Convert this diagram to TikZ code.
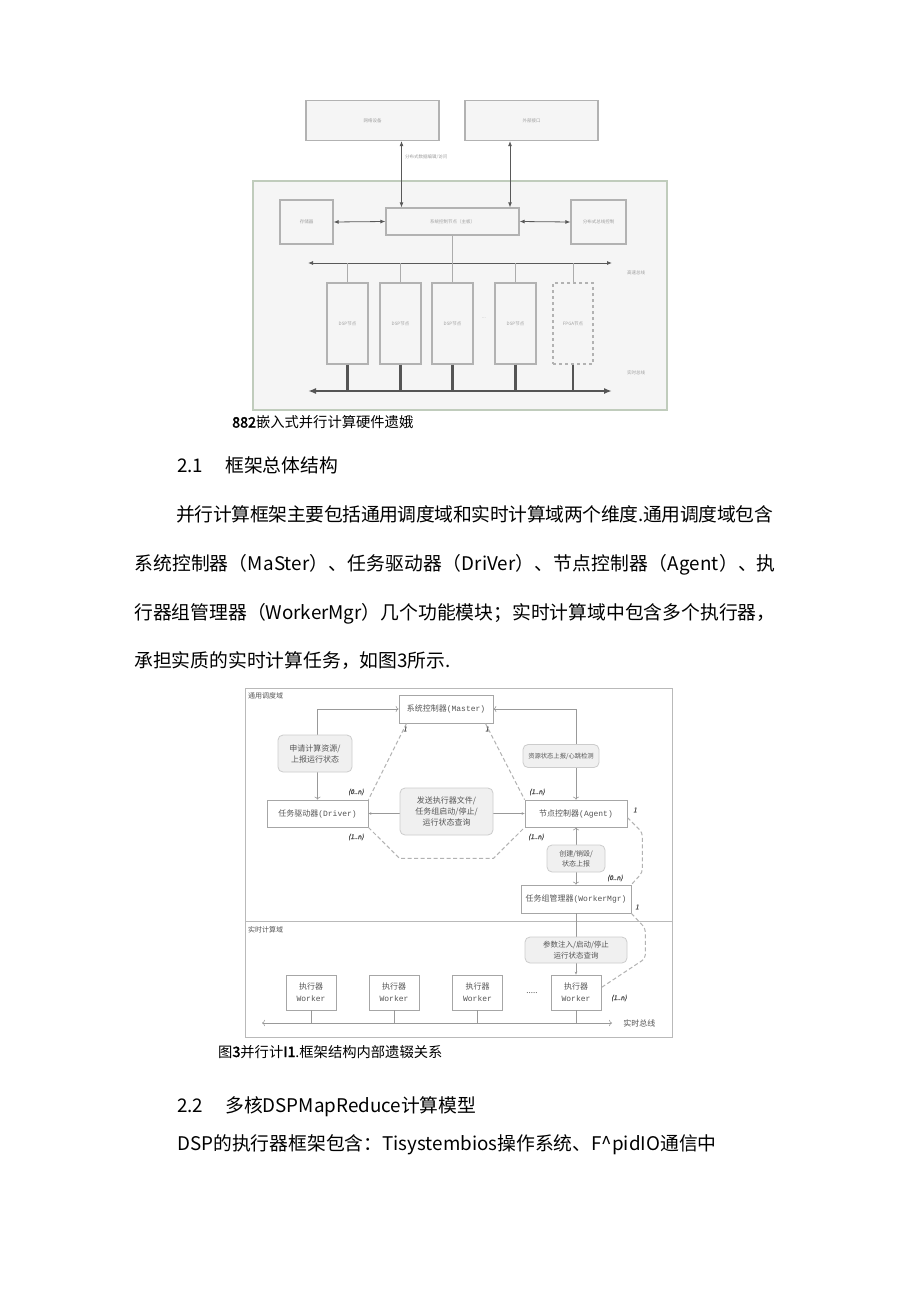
\documentclass[tikz,border=0pt]{standalone}
\usepackage{fontspec}
\newfontfamily\cjk[AutoFakeBold=2.5,AutoFakeSlant=0.2]{Noto Sans CJK SC}
\newfontfamily\dmono{Liberation Mono}
\usetikzlibrary{arrows.meta,positioning}
\definecolor{myGreen}{RGB}{192,204,188}
\definecolor{myLine}{RGB}{178,178,178}
\definecolor{myDark}{RGB}{85,85,85}
\definecolor{myBg}{RGB}{245,245,245}

\begin{document}
\begin{tikzpicture}[x=1pt,y=-1pt,
      bodytext/.style={anchor=base west,inner sep=0pt,font=\cjk\fontsize{18.8}{24}\selectfont},
      captext/.style={anchor=base west,inner sep=0pt,font=\cjk\fontsize{14.3}{16}\selectfont},
      hwzone/.style={draw=myGreen,line width=1.5pt,fill=myBg,inner sep=0pt},
      hwbox/.style={draw=myLine,line width=1.3pt,fill=myBg,inner sep=0pt,
         font=\cjk\fontsize{4.5}{5}\selectfont,text=gray!75},
      hwlabel/.style={inner sep=0pt,font=\cjk\fontsize{4.5}{5}\selectfont,text=gray!75},
      hwarrow/.style={{Latex[length=5pt,width=4pt]}-{Latex[length=5pt,width=4pt]},
         draw=gray!70!black,line width=0.8pt},
      hwline/.style={draw=gray!65,line width=1pt},
      rtline/.style={draw=myDark,line width=2.4pt},
      rtbus/.style={{Latex[length=8pt,width=6pt]}-{Latex[length=8pt,width=6pt]},
         draw=myDark,line width=2.6pt},
      zone/.style={draw=gray!55,line width=1pt,inner sep=0pt},
      zonelabel/.style={anchor=north west,inner sep=0pt,font=\cjk\fontsize{7}{8}\selectfont,text=myDark},
      ctlbox/.style={draw=gray!70,line width=0.8pt,fill=white,inner sep=0pt,
         font=\cjk\fontsize{8}{9}\selectfont,text=myDark},
      msgbox/.style={draw=gray!40,line width=0.8pt,rounded corners=5pt,fill=gray!12,
         inner sep=0pt,align=center,font=\cjk\fontsize{8}{11}\selectfont,text=myDark},
      myarrow/.style={draw=gray!80,line width=0.6pt,-{Stealth[length=3pt,width=2.6pt]}},
      mylink/.style={draw=gray!60,line width=1pt,dash pattern=on 4pt off 2.5pt},
      mult/.style={inner sep=0pt,font=\cjk\bfseries\itshape\fontsize{6.5}{7}\selectfont,text=myDark}
      ]
      \useasboundingbox[fill=white] (0,0) rectangle (920,1301);

      % hardware diagram
      \node[hwbox,minimum width=133,minimum height=40] (netdev) at (372.5,120.5) {网络设备};
      \node[hwbox,minimum width=133,minimum height=40] (extif) at (531.5,120.5) {外部接口};
      \node[hwzone,minimum width=414,minimum height=229] (hwzone) at (460,295.5) {};
      \node[hwbox,minimum width=53,minimum height=44] (store) at (306.5,222) {存储器};
      \node[hwbox,minimum width=133,minimum height=27] (mainctl) at (452.5,221.5) {系统控制节点（主板）};
      \node[hwbox,minimum width=55,minimum height=44] (busctl) at (598.5,222) {分布式总线控制};

      \draw[hwarrow] ([xshift=29pt]netdev.south) -- ([xshift=29pt]netdev.south |- mainctl.north);
      \draw[hwarrow] ([xshift=-21.5pt]extif.south) -- ([xshift=-21.5pt]extif.south |- mainctl.north);
      \node[hwlabel,anchor=west] (dataacc) at (405,157) {分布式数据编辑/访问};
      \draw[hwarrow] (store.east) -- (mainctl.west);
      \draw[hwarrow] (mainctl.east) -- (busctl.west);

      \coordinate (hsL) at (308,263);
      \coordinate (hsR) at (612,263);
      \coordinate (rtL) at (308,391);
      \coordinate (rtR) at (612,391);
      \draw[hwarrow] (hsL) -- (hsR);
      \draw[hwline] (mainctl.south) -- (mainctl.south |- hsL);

      \foreach \n/\x in {1/347.5,2/400.5,3/452.5,4/515.5}
        \node[hwbox,minimum width=41,minimum height=81] (dsp\n) at (\x,323.5) {DSP节点};
      \node[hwbox,dashed,minimum width=40,minimum height=81] (fpga) at (573,323.5) {FPGA节点};
      \node[hwlabel] (hwdots) at (484,318) {...};

      \foreach \n in {dsp1,dsp2,dsp3,dsp4,fpga} {
        \draw[hwline] (\n.north) -- (\n.north |- hsL);
        \draw[rtline] (\n.south) -- (\n.south |- rtL);
      }
      \draw[rtbus] (rtL) -- (rtR);
      \node[hwlabel,anchor=west] (hslab) at (627,273) {高速总线};
      \node[hwlabel,anchor=west] (rtlab) at (627,373) {实时总线};

      \node[captext] (cap2) at (232,427.5) {\textbf{882}嵌入式并行计算硬件遗娥};

      % text
      \node[bodytext] (sec21num) at (177,472.5) {2.1};
      \node[bodytext] (sec21) at (225,472.5) {框架总体结构};
      \node[bodytext] (para1) at (176,521.5) {\addfontfeature{LetterSpace=-1.7}并行计算框架主要包括通用调度域和实时计算域两个维度.通用调度域包含};
      \node[bodytext] (para2) at (134,570.5) {\addfontfeature{LetterSpace=0.8}系统控制器（MaSter）、任务驱动器（DriVer）、节点控制器（Agent）、执};
      \node[bodytext] (para3) at (134,619.5) {行器组管理器（WorkerMgr）几个功能模块；实时计算域中包含多个执行器，};
      \node[bodytext] (para4) at (134,667.5) {承担实质的实时计算任务，如图3所示.};

      % framework diagram
      \node[zone,minimum width=427,minimum height=233] (genzone) at (458.5,804.5) {};
      \node[zone,minimum width=427,minimum height=116] (rtzone) at (458.5,979) {};
      \node[zonelabel] (genlab) at (248,692) {通用调度域};
      \node[zonelabel] (rtzlab) at (248,926) {实时计算域};

      \node[ctlbox,minimum width=94,minimum height=28] (master) at (446,709) {系统控制器\dmono(Master)};
      \node[ctlbox,minimum width=101,minimum height=27] (driver) at (317.5,813.5) {任务驱动器\dmono(Driver)};
      \node[ctlbox,minimum width=102,minimum height=27] (agent) at (576,813.5) {节点控制器\dmono(Agent)};
      \node[ctlbox,minimum width=110,minimum height=28] (wmgr) at (576,899) {任务组管理器\dmono(WorkerMgr)};

      \foreach \n/\x in {1/311,2/394,3/477.5,4/576}
        \node[ctlbox,minimum width=50,minimum height=35,align=center,font=\cjk\fontsize{8}{12}\selectfont]
          (wk\n) at (\x,992.5) {执行器\\\dmono Worker};
      \node[ctlbox,draw=none,fill=none] (wkdots) at (532,993) {.....};

      \draw[myarrow,<->] (driver.north) |- (master.west);
      \draw[myarrow,<->] (agent.north) |- (master.east);
      \draw[myarrow] (driver.east -| 400,0) -- (driver.east);
      \draw[myarrow] (agent.west -| 493,0) -- (agent.west);
      \draw[myarrow,<->] (agent.south) -- (wmgr.north);
      \draw[myarrow] (wmgr.south) -- (wk4.north);

      \node[msgbox,minimum width=74,minimum height=37] (reqmsg) at (315,753.5) {申请计算资源/\\上报运行状态};
      \node[msgbox,minimum width=76,minimum height=23,font=\cjk\fontsize{6.3}{8}\selectfont] (resmsg) at (561,756) {资源状态上报/心跳检测};
      \node[msgbox,minimum width=93,minimum height=47] (cmdmsg) at (446.5,811.5) {发送执行器文件/\\任务组启动/停止/\\运行状态查询};
      \node[msgbox,minimum width=58,minimum height=27,font=\cjk\fontsize{7}{10}\selectfont] (crtmsg) at (576,858.5) {创建/销毁/\\状态上报};
      \node[msgbox,minimum width=102,minimum height=26,font=\cjk\fontsize{7.5}{10.5}\selectfont] (parmsg) at (576,950) {参数注入/启动/停止\\运行状态查询};

      \draw[mylink] ([xshift=8pt]master.south west) -- (driver.north east);
      \draw[mylink] ([xshift=-8pt]master.south east) -- (agent.north west);
      \draw[mylink] (driver.south east) -- ([yshift=-23pt]cmdmsg.south west)
        -- ([yshift=-23pt]cmdmsg.south east) -- (agent.south west);
      \draw[mylink,rounded corners=4pt] ([yshift=-4pt]agent.east) -- ++(15,15) -- ++(0,40) -- (wmgr.north east);
      \draw[mylink,rounded corners=4pt] (wmgr.south east) -- ++(14,15) -- ++(0,30) -- ([yshift=5pt]wk4.east);

      \node[mult] (m1) at (405,729) {1};
      \node[mult] (m2) at (487,729) {1};
      \node[mult] (m3) at (356,792) {(0..n)};
      \node[mult] (m4) at (537,792) {(1..n)};
      \node[mult] (m5) at (635,810) {1};
      \node[mult] (m6) at (356,837) {(1..n)};
      \node[mult] (m7) at (536,837) {(1..n)};
      \node[mult] (m8) at (615,878) {(0..n)};
      \node[mult] (m9) at (637,907) {1};
      \node[mult] (m10) at (619,998) {(1..n)};

      \coordinate (busL) at (262,1023);
      \coordinate (busR) at (612,1023);
      \draw[myarrow,<->] (busL) -- (busR);
      \foreach \n in {wk1,wk2,wk3,wk4}
        \draw[draw=gray!80,line width=0.6pt] (\n.south) -- (\n.south |- busL);
      \node[ctlbox,draw=none,fill=none,anchor=west] (buslab) at (623,1023) {实时总线};

      \node[captext] (cap3) at (218,1057) {图\textbf{3}并行计\textbf{I1}.框架结构内部遗辍关系};

      % text
      \node[bodytext] (sec22num) at (177,1112.5) {2.2};
      \node[bodytext] (sec22) at (225,1112.5) {多核DSPMapReduce计算模型};
      \node[bodytext] (para5) at (177,1150.5) {DSP的执行器框架包含：Tisystembios操作系统、F\textasciicircum pidIO通信中};
\end{tikzpicture}
\end{document}
